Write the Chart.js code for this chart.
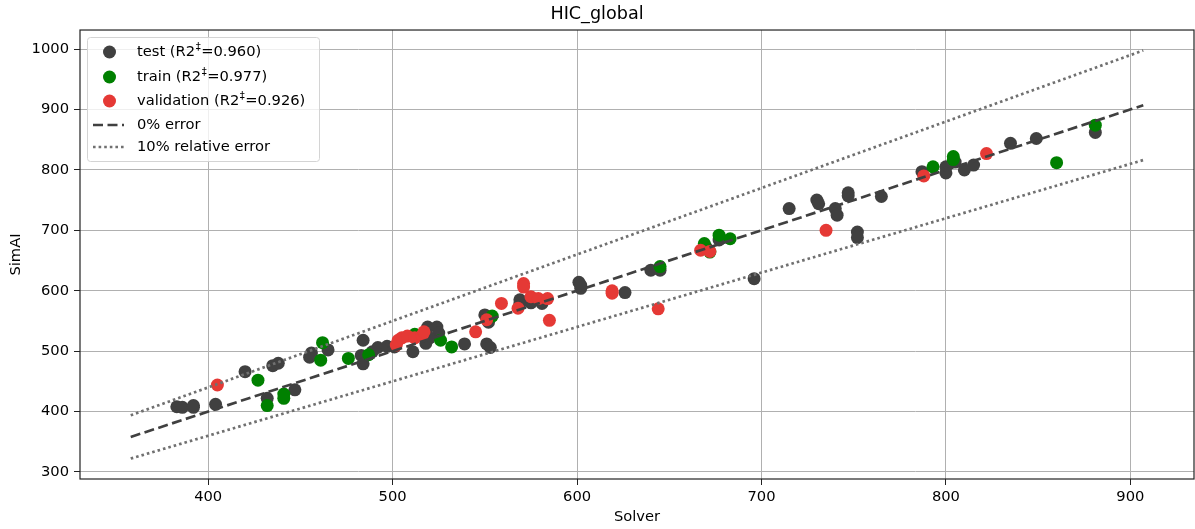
<!DOCTYPE html>
<html>
<head>
<meta charset="utf-8">
<title>HIC_global</title>
<script src="https://cdn.jsdelivr.net/npm/chart.js@4.4.1/dist/chart.umd.min.js"></script>
<style>
  html, body { margin: 0; padding: 0; background: #fff; }
  #wrap { position: relative; width: 1195px; height: 529px; }
</style>
</head>
<body>
<div id="wrap"><canvas id="hicChart"></canvas></div>
<script>
/* --------------------------------------------------------------------------
   Data: [Solver, SimAI] pairs per split
   -------------------------------------------------------------------------- */
const testPoints = [
  [383, 408], [386, 407], [392, 410], [392, 407], [404, 412], [420, 466], [435, 476], [438, 480],
  [432, 422], [447, 436], [455, 490], [456, 497], [465, 502], [484, 518], [483, 493], [484, 479],
  [489, 499], [492, 506], [497, 508], [501, 507], [511, 499], [519, 540], [524, 540], [525, 530],
  [518, 513], [520, 522], [539, 512], [551, 512], [553, 506], [550, 560], [552, 548], [569, 585],
  [569, 578], [575, 580], [581, 579], [601, 614], [602, 604], [602, 609], [626, 597], [640, 634],
  [645, 634], [670, 672], [677, 684], [696, 620], [715, 736], [730, 750], [731, 744], [740, 736],
  [741, 725], [747, 762], [747, 757], [752, 697], [752, 688], [765, 756], [787, 797], [800, 805],
  [800, 795], [805, 813], [810, 800], [815, 808], [835, 844], [849, 852], [881, 862]
];
const trainPoints = [
  [427, 452], [432, 410], [441, 429], [441, 422], [461, 485], [462, 514], [476, 488], [487, 494],
  [512, 528], [526, 518], [532, 507], [554, 558], [645, 640], [669, 678], [672, 664], [677, 692],
  [683, 686], [793, 805], [804, 822], [804, 817], [860, 812], [881, 874]
];
const validationPoints = [
  [405, 444], [502, 510], [503, 518], [505, 522], [508, 525], [512, 522], [516, 526], [517, 532],
  [545, 532], [551, 552], [559, 579], [568, 571], [571, 612], [571, 606], [575, 590], [579, 587],
  [584, 587], [585, 551], [619, 600], [619, 596], [644, 570], [667, 667], [672, 665], [735, 700],
  [788, 790], [822, 827]
];

// reference lines (endpoints)
const refSolver = [358, 907];
const zeroErrorLine = [358, 907];
const lowErrorLine = [322.2, 816.3];
const highErrorLine = [393.8, 997.7];

const splitNames = ['test', 'train', 'validation'];
const r2Values = ['0.960', '0.977', '0.926'];
const splitColors = ['#404040', '#008000', '#e53935'];

const xTicks = [400, 500, 600, 700, 800, 900];
const yTicks = [300, 400, 500, 600, 700, 800, 900, 1000];

/* -------------------------------------------------------------------------- */
const FONT = '"DejaVu Sans", sans-serif';
const toXY = pts => pts.map(p => ({ x: p[0], y: p[1] }));
const lineXY = ys => refSolver.map((x, i) => ({ x: x, y: ys[i] }));

// matplotlib-like legend box in the upper left corner
const boxLegend = {
  id: 'boxLegend',
  afterDraw(chart) {
    const ctx = chart.ctx;
    const x0 = 87.5, y0 = 37.5, w = 232, h = 124;
    const rows = [52, 77, 101, 125, 147];
    const textX = 137;
    const mainFont = '14.7px ' + FONT;
    const supFont = '10px ' + FONT;

    ctx.save();
    ctx.fillStyle = 'rgba(255,255,255,0.8)';
    ctx.strokeStyle = '#d4d4d4';
    ctx.lineWidth = 1;
    ctx.beginPath();
    ctx.roundRect(x0, y0, w, h, 3);
    ctx.fill();
    ctx.stroke();

    ctx.textBaseline = 'middle';
    splitNames.forEach((name, i) => {
      const y = rows[i];
      ctx.fillStyle = splitColors[i];
      ctx.beginPath();
      ctx.arc(109.5, y, 6.5, 0, Math.PI * 2);
      ctx.fill();

      ctx.fillStyle = '#000';
      ctx.font = mainFont;
      const s = name + ' (R2';
      ctx.fillText(s, textX, y);
      let off = ctx.measureText(s).width + 0.5;
      ctx.font = supFont;
      ctx.fillText('\u2021', textX + off, y - 5);
      off += ctx.measureText('\u2021').width + 0.5;
      ctx.font = mainFont;
      ctx.fillText('=' + r2Values[i] + ')', textX + off, y);
    });

    const lineRows = [
      { y: rows[3], dash: [10, 4.5], color: '#404040', text: '0% error' },
      { y: rows[4], dash: [2.6, 3], color: '#707070', text: '10% relative error' }
    ];
    lineRows.forEach(r => {
      ctx.strokeStyle = r.color;
      ctx.lineWidth = 2.7;
      ctx.setLineDash(r.dash);
      ctx.beginPath();
      ctx.moveTo(93, r.y);
      ctx.lineTo(124, r.y);
      ctx.stroke();
      ctx.setLineDash([]);
      ctx.fillStyle = '#000';
      ctx.font = mainFont;
      ctx.fillText(r.text, textX, r.y);
    });
    ctx.restore();
  }
};

// full box frame round the plot area
const frameBox = {
  id: 'frameBox',
  afterDatasetsDraw(chart) {
    const a = chart.chartArea;
    const ctx = chart.ctx;
    ctx.save();
    ctx.strokeStyle = '#222';
    ctx.lineWidth = 1.2;
    ctx.strokeRect(a.left, a.top, a.right - a.left, a.bottom - a.top);
    ctx.restore();
  }
};

function initHicChart() {
  const ctx = document.getElementById('hicChart');
  if (!ctx || typeof Chart === 'undefined') return;

  const scatterSet = (pts, i, order) => ({
    type: 'scatter',
    label: splitNames[i],
    data: toXY(pts),
    backgroundColor: splitColors[i],
    borderWidth: 0,
    pointRadius: 6.5,
    pointHoverRadius: 6.5,
    order: order
  });
  const refSet = (ys, color, dash, label) => ({
    type: 'line',
    label: label,
    data: lineXY(ys),
    borderColor: color,
    borderWidth: 2.7,
    borderDash: dash,
    pointRadius: 0,
    fill: false,
    order: 0
  });

  const tickFont = { family: FONT, size: 14.7 };

  new Chart(ctx, {
    type: 'scatter',
    data: {
      datasets: [
        scatterSet(testPoints, 0, 3),
        scatterSet(trainPoints, 1, 2),
        scatterSet(validationPoints, 2, 1),
        refSet(zeroErrorLine, '#404040', [10, 4.5], '0% error'),
        refSet(lowErrorLine, '#707070', [2.6, 3], '10% relative error'),
        refSet(highErrorLine, '#707070', [2.6, 3], '')
      ]
    },
    options: {
      responsive: true,
      maintainAspectRatio: false,
      animation: false,
      devicePixelRatio: 1,
      layout: { autoPadding: false, padding: { left: 0, right: 1, top: 0, bottom: 0 } },
      plugins: {
        legend: { display: false },
        tooltip: { enabled: false },
        title: {
          display: true,
          text: 'HIC_global',
          color: '#000',
          font: { family: FONT, size: 17.6, weight: 'normal' },
          padding: { top: 4, bottom: 4.9 }
        }
      },
      scales: {
        x: {
          type: 'linear',
          min: 330.5,
          max: 934.5,
          afterBuildTicks: s => { s.ticks = xTicks.map(v => ({ value: v })); },
          afterFit: s => { s.height = 50; s.paddingLeft = 0; s.paddingRight = 0; },
          grid: { color: '#b0b0b0', lineWidth: 1, tickLength: 6, tickColor: '#222' },
          border: { display: false },
          ticks: { color: '#000', font: tickFont, padding: 3, maxRotation: 0, callback: v => String(v) },
          title: { display: true, text: 'Solver', color: '#000', font: tickFont, padding: { top: 0, bottom: 3 } }
        },
        y: {
          type: 'linear',
          min: 288.4,
          max: 1031.5,
          afterBuildTicks: s => { s.ticks = yTicks.map(v => ({ value: v })); },
          afterFit: s => { s.width = 80; s.paddingTop = 0; s.paddingBottom = 0; },
          grid: { color: '#b0b0b0', lineWidth: 1, tickLength: 6, tickColor: '#222' },
          border: { display: false },
          ticks: { color: '#000', font: tickFont, padding: 5, callback: v => String(v) },
          title: { display: true, text: 'SimAI', color: '#000', font: tickFont, padding: { top: 7, bottom: 0 } }
        }
      }
    },
    plugins: [frameBox, boxLegend]
  });
}

initHicChart();
</script>
</body>
</html>
